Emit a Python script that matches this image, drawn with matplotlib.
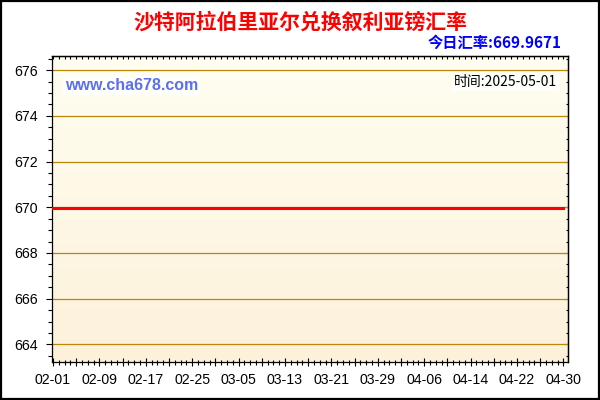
import matplotlib
matplotlib.use("Agg")
import matplotlib.pyplot as plt
import matplotlib.dates as mdates
from matplotlib.patches import Rectangle
from matplotlib.ticker import MultipleLocator, FixedLocator, FixedFormatter
import numpy as np
import datetime as dt

# ---- data ----
title = "沙特阿拉伯里亚尔兑换叙利亚镑汇率"
today_rate_label = "今日汇率:669.9671"
site_label = "www.cha678.com"
time_label = "时间:2025-05-01"
dates = ["2025-02-01", "2025-04-30"]
rates = [669.9671, 669.9671]
xtick_dates = ["2025-02-01", "2025-02-09", "2025-02-17", "2025-02-25", "2025-03-05",
               "2025-03-13", "2025-03-21", "2025-03-29", "2025-04-06", "2025-04-14",
               "2025-04-22", "2025-04-30"]
xtick_labels = ["02-01", "02-09", "02-17", "02-25", "03-05", "03-13", "03-21",
                "03-29", "04-06", "04-14", "04-22", "04-30"]
ytick_values = [664, 666, 668, 670, 672, 674, 676]

plt.rcParams['font.family'] = ['Liberation Sans', 'Noto Sans CJK SC', 'DejaVu Sans']

fig = plt.figure(figsize=(6, 4), dpi=100)
fig.patch.set_facecolor('white')
ax = fig.add_axes([52/600, 1-362/400, (568-52)/600, (362-55.7)/400])

x = mdates.date2num([dt.datetime.strptime(d, "%Y-%m-%d") for d in dates])
xt = mdates.date2num([dt.datetime.strptime(d, "%Y-%m-%d") for d in xtick_dates])

x0 = xt[0] - 0.17
x1 = xt[-1] + 0.8
ax.set_xlim(x0, x1)
ax.set_ylim(663.23, 676.63)

# gradient background
grad = np.linspace(0, 1, 256).reshape(-1, 1)
top = np.array([255, 254, 241]) / 255
bot = np.array([253, 241, 218]) / 255
img = top[None, None, :] * (1 - grad[:, :, None]) + bot[None, None, :] * grad[:, :, None]
ax.imshow(img, extent=[0, 1, 0, 1], transform=ax.transAxes, aspect='auto', zorder=0)

# grid lines
for v in ytick_values:
    ax.axhline(v, color='#B8860B', lw=0.9, zorder=1)

ax.plot(x, rates, color='#FF0000', lw=2.2, zorder=3, solid_capstyle='projecting')

# ticks bottom / left
major_x = np.arange(xt[0], xt[-1] + 0.5, 4)
ax.xaxis.set_major_locator(FixedLocator(major_x))
lab = []
for m in major_x:
    idx = np.where(np.isclose(xt, m))[0]
    lab.append(xtick_labels[idx[0]] if len(idx) else "")
ax.xaxis.set_major_formatter(FixedFormatter(lab))
ax.xaxis.set_minor_locator(MultipleLocator(1))
ax.yaxis.set_major_locator(FixedLocator(ytick_values))
ax.yaxis.set_minor_locator(MultipleLocator(0.5))

ax.tick_params(axis='x', which='major', direction='inout', length=5.5, width=0.8, pad=5, labelsize=10.2, colors='black')
ax.tick_params(axis='x', which='minor', direction='inout', length=3.6, width=0.8)
ax.tick_params(axis='y', which='major', direction='out', length=4.5, width=0.8, pad=5.5, labelsize=10.2)
ax.tick_params(axis='y', which='minor', direction='out', length=3.2, width=0.8)

for s in ax.spines.values():
    s.set_linewidth(0.9)
    s.set_color('black')

# top / right ticks inward
secx = ax.secondary_xaxis('top')
secx.xaxis.set_major_locator(FixedLocator(major_x))
secx.xaxis.set_minor_locator(MultipleLocator(1))
secx.tick_params(which='major', direction='in', length=2.5, width=0.8, labeltop=False)
secx.tick_params(which='minor', direction='in', length=1.8, width=0.8)
secx.spines['top'].set_linewidth(0.9)
secy = ax.secondary_yaxis('right')
secy.yaxis.set_major_locator(FixedLocator(ytick_values))
secy.yaxis.set_minor_locator(MultipleLocator(0.5))
secy.tick_params(which='major', direction='in', length=2.5, width=0.8, labelright=False)
secy.tick_params(which='minor', direction='in', length=1.8, width=0.8)
secy.spines['right'].set_linewidth(0.9)

# texts
fig.text(0.5, 1-22/400, title, ha='center', va='center', color='#FF0000',
         fontsize=15, fontweight='bold', family=['Noto Sans CJK SC', 'DejaVu Sans'])
fig.text(562/600, 1-43/400, today_rate_label, ha='right', va='center', color='#0000FF',
         fontsize=11, fontweight='bold', family=['Noto Sans CJK SC', 'DejaVu Sans'])
fig.text(65/600, 1-85/400, site_label, ha='left', va='center', color='#5B6FEF',
         fontsize=11.5, fontweight='bold', family=['Liberation Sans'],
         bbox=dict(facecolor='white', edgecolor='none', pad=1.5, alpha=0.8))
fig.text(557/600, 1-82/400, time_label, ha='right', va='center', color='black',
         fontsize=10, family=['Noto Sans CJK SC', 'DejaVu Sans'],
         bbox=dict(facecolor='white', edgecolor='none', pad=1.5, alpha=0.8))

# figure frame
fig.patches.append(Rectangle((0.002, 0.003), 0.996, 0.994, transform=fig.transFigure,
                             fill=False, edgecolor='black', lw=1.6))

fig.savefig("out.png", dpi=100, facecolor='white')
